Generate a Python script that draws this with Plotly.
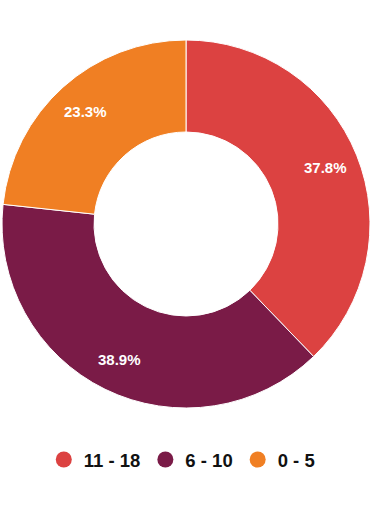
import math
import plotly.graph_objects as go

categories = ["11 - 18", "6 - 10", "0 - 5"]
shares = [37.8, 38.9, 23.3]
colors = ["#DC4241", "#7A1B47", "#F07F23"]

W, H = 371, 512
CX, CY, R = 186, 224, 184  # pie centre and radius in pixels
LABEL_R = 0.82 * R

fig = go.Figure()
fig.add_trace(go.Pie(
    labels=categories,
    values=shares,
    hole=0.5,
    sort=False,
    direction="clockwise",
    rotation=0,
    marker=dict(colors=colors, line=dict(color="white", width=1)),
    textinfo="none",
    showlegend=False,
    hoverinfo="skip",
    domain=dict(x=[(CX - R) / W, (CX + R) / W], y=[1 - (CY + R) / H, 1 - (CY - R) / H]),
))

total = sum(shares)
cum = 0.0
for v in shares:
    mid = (cum + v / 2) / total * 2 * math.pi
    cum += v
    px = CX + LABEL_R * math.sin(mid)
    py = CY - LABEL_R * math.cos(mid)
    fig.add_annotation(
        x=px / W, y=1 - py / H, xref="paper", yref="paper",
        xanchor="center", yanchor="middle",
        text=f"{v / total * 100:.1f}%", showarrow=False,
        font=dict(family="Liberation Sans, Arial, sans-serif", size=15, color="white", weight="bold"),
    )

for cat, col in zip(categories, colors):
    fig.add_trace(go.Scatter(
        x=[None], y=[None], mode="markers", name=cat,
        marker=dict(symbol="circle", size=16, color=col),
        showlegend=True,
    ))

fig.update_layout(
    width=W, height=H,
    margin=dict(l=0, r=0, t=0, b=0),
    paper_bgcolor="white", plot_bgcolor="white",
    xaxis=dict(visible=False), yaxis=dict(visible=False),
    legend=dict(
        orientation="h", x=0.49, xanchor="center", y=1 - 460 / H, yanchor="middle",
        font=dict(family="Liberation Sans, Arial, sans-serif", size=18.5, color="#111111", weight="bold"),
        itemsizing="trace", traceorder="normal",
    ),
)
fig.write_html("out.html", config={"displayModeBar": False},
               post_script="document.body.style.margin='0';document.body.style.overflow='hidden';")
